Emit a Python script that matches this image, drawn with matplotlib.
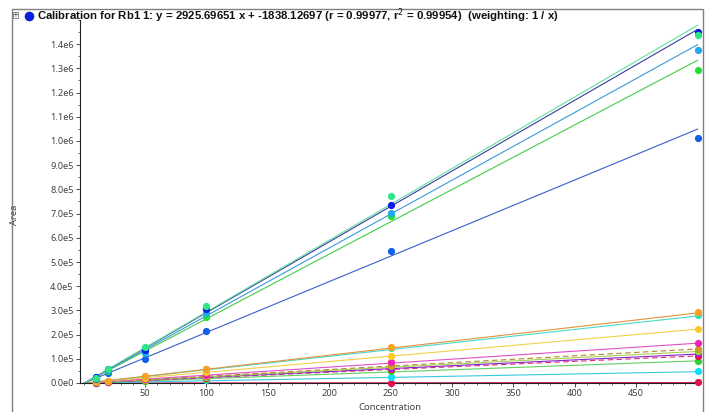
import matplotlib
matplotlib.use("Agg")
import matplotlib.pyplot as plt
import numpy as np
from matplotlib.ticker import FuncFormatter, MultipleLocator, FixedLocator
from matplotlib.patches import Rectangle
from matplotlib.lines import Line2D

plt.rcParams['font.family'] = ['Noto Sans', 'DejaVu Sans']

# ---- data -------------------------------------------------------------
concentrations = [10, 20, 50, 100, 250, 500]

series_names = ["Rb1 1", "S2", "S3", "S4", "S5",
                "L1", "L2", "L3", "L4", "L5", "L6", "L7", "L8", "L9", "L10", "L11"]

# measured areas at each concentration (None = no visible point)
areas = {
    "S2":   [2.2e4, 5.6e4, 1.49e5, 3.18e5, 7.73e5, 1.44e6],
    "Rb1 1":[2.5e4, 5.8e4, 1.36e5, 3.06e5, 7.35e5, 1.45e6],
    "S3":   [2.3e4, 5.3e4, 1.24e5, 2.90e5, 7.02e5, 1.376e6],
    "S4":   [2.2e4, 5.0e4, 1.30e5, 2.73e5, 6.90e5, 1.293e6],
    "S5":   [1.8e4, 4.1e4, 0.99e5, 2.15e5, 5.45e5, 1.012e6],
    "L1":   [4.0e3, 1.0e4, 2.8e4, 5.6e4, 1.47e5, 2.93e5],
    "L2":   [4.5e3, 1.0e4, 2.9e4, 5.8e4, 1.45e5, 2.81e5],
    "L3":   [3.5e3, 8.0e3, 2.2e4, 4.4e4, 1.12e5, 2.23e5],
    "L4":   [3.0e3, 6.0e3, 1.6e4, 3.3e4, 8.5e4, 1.65e5],
    "L5":   [2.5e3, 5.0e3, 1.4e4, 2.8e4, 7.0e4, 1.40e5],
    "L6":   [2.5e3, 5.0e3, 1.3e4, 2.6e4, 7.4e4, 1.32e5],
    "L7":   [2.0e3, 4.5e3, 1.2e4, 2.4e4, 6.0e4, 1.24e5],
    "L8":   [2.0e3, 4.0e3, 1.1e4, 2.2e4, 5.6e4, 1.12e5],
    "L9":   [1.5e3, 3.5e3, 9.0e3, 1.8e4, 5.0e4, 0.91e5],
    "L10":  [1.0e3, 5.0e3, 8.0e3, 1.2e4, 2.5e4, 0.50e5],
    "L11":  [None,  None,  None,  None,  1.0e3, 4.0e3],
}

# regression line parameters (slope, intercept)
slopes = {"S2": 2960.0, "Rb1 1": 2925.69651, "S3": 2800.0, "S4": 2670.0, "S5": 2100.0,
          "L1": 582.0, "L2": 556.0, "L3": 446.0, "L4": 330.0, "L5": 282.0, "L6": 262.0,
          "L7": 240.0, "L8": 225.0, "L9": 184.0, "L10": 94.0, "L11": 4.0}
intercepts = {"S2": -2000.0, "Rb1 1": -1838.12697, "S3": -2000.0, "S4": -1500.0, "S5": -1000.0,
              "L1": -1500.0, "L2": -1000.0, "L3": -500.0, "L4": -500.0, "L5": -500.0, "L6": -500.0,
              "L7": -500.0, "L8": -500.0, "L9": -500.0, "L10": -300.0, "L11": 0.0}

y_ticks = [i * 1e5 for i in range(15)]
x_ticks = [50, 100, 150, 200, 250, 300, 350, 400, 450]

title = ("Calibration for Rb1 1: y = 2925.69651 x + -1838.12697 (r = 0.99977, r$^2$ = 0.99954)"
         "  (weighting: 1 / x)")

# ---- styles -------------------------------------------------------------
point_colors = {"S2": "#2ee68a", "Rb1 1": "#0a1ee6", "S3": "#20a8f0", "S4": "#22e03a", "S5": "#1460e6",
                "L1": "#ffa020", "L2": "#28e0b8", "L3": "#ffc828", "L4": "#f020b8", "L5": "#c8a020",
                "L6": "#98e020", "L7": "#a020e0", "L8": "#f01050", "L9": "#30d030", "L10": "#10e0f4",
                "L11": "#e0104a"}
line_colors = {"S2": "#60e0a0", "Rb1 1": "#3a3aa0", "S3": "#3a98d8", "S4": "#44cc44", "S5": "#3a5ec8",
               "L1": "#e0923a", "L2": "#48d8c8", "L3": "#f0d048", "L4": "#e050c8", "L5": "#b08830",
               "L6": "#a8d050", "L7": "#8a20d0", "L8": "#e03070", "L9": "#60d060", "L10": "#38c8e0",
               "L11": "#d02060"}
line_styles = {k: "-" for k in series_names}
line_styles["L5"] = (0, (5, 3))
line_styles["L8"] = (0, (5, 3))

fig = plt.figure(figsize=(7.05, 4.12), dpi=100)
ax = fig.add_axes([80/705, 1 - 383/412, 620/705, 363/412])

xs = np.array([0.0, 500.0])
order = ["L11", "L10", "L9", "L8", "L7", "L6", "L5", "L4", "L3", "L2", "L1",
         "S5", "S4", "S3", "Rb1 1", "S2"]
for name in order:
    ax.plot(xs, slopes[name] * xs + intercepts[name], color=line_colors[name],
            lw=0.8, ls=line_styles[name], zorder=2)
for name in order:
    xv = [c for c, a in zip(concentrations, areas[name]) if a is not None]
    yv = [a for a in areas[name] if a is not None]
    ax.plot(xv, yv, 'o', ms=5.2, color=point_colors[name],
            mec='none', zorder=3, clip_on=False)

ax.set_xlim(-3, 502)
ax.set_ylim(0, 1.5e6)

def yfmt(v, pos):
    if abs(v) < 1:
        return "0.0e0"
    if v >= 1e6 - 1:
        return f"{v/1e6:.1f}e6"
    return f"{v/1e5:.1f}e5"

ax.yaxis.set_major_locator(FixedLocator(y_ticks))
ax.yaxis.set_major_formatter(FuncFormatter(yfmt))
ax.yaxis.set_minor_locator(MultipleLocator(5e4))
ax.xaxis.set_major_locator(FixedLocator(x_ticks))
ax.xaxis.set_minor_locator(MultipleLocator(10))

for s in ["top", "right"]:
    ax.spines[s].set_visible(False)
for s in ["left", "bottom"]:
    ax.spines[s].set_color("#202020")
    ax.spines[s].set_linewidth(0.8)

ax.tick_params(axis='both', which='major', length=3, width=0.6, labelsize=6.6,
               labelcolor="#404040", color="#303030", pad=1.5)
ax.tick_params(axis='both', which='minor', length=1.5, width=0.5, color="#303030")

ax.set_xlabel("Concentration", fontsize=6.8, color="#404040")
ax.set_ylabel("Area", fontsize=6.8, color="#404040")
ax.xaxis.set_label_coords((390 - 80) / 620, -(403 - 383) / 363)
ax.yaxis.set_label_coords(-(80 - 19) / 620, (383 - 215) / 363)

# panel frame and title strip
fig.patches.append(Rectangle((12/705, -0.01), 691/705, 1 - 9/412 + 0.01,
                             transform=fig.transFigure, fill=False,
                             edgecolor="#808080", lw=1.0))
fig.patches.append(Rectangle((13/705, 1 - 18/412), 5/705, 6/412,
                             transform=fig.transFigure, fill=False,
                             edgecolor="#606060", lw=0.5))
fig.text(15.5/705, 1 - 14.8/412, "+", fontsize=5, color="#303030", va="center", ha="center",
         family="DejaVu Sans")
fig.add_artist(Line2D([29/705], [1 - 16/412], marker='o', ms=6.5, color="#0a1ee6",
                      mec="#0010a0", mew=0.4, transform=fig.transFigure))
fig.text(37/705, 1 - 16/412, title, fontsize=8.2, fontweight="bold", color="#101010",
         va="center", ha="left", family=["Liberation Sans", "DejaVu Sans"])

fig.savefig("out.png", dpi=100)
